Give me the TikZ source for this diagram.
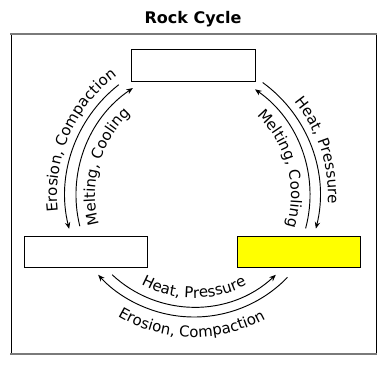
\documentclass[tikz,border=0pt]{standalone}
\usepackage{fontspec}
\setmainfont{DejaVu Sans}
\usepackage{tikz}
\usetikzlibrary{arrows.meta, decorations.text, calc}
\definecolor{rockyellow}{HTML}{FFFF00}
\definecolor{framegray}{HTML}{7A7A7A}
\newcommand{\arcfont}{\fontsize{11.25}{13}\selectfont}
\tikzstyle{rockbox} = [rectangle, draw=black, line width=0.9pt, fill=white, minimum width=92.5pt, minimum height=23.5pt, inner sep=0pt]
\tikzstyle{cyclearrow} = [line width=0.7pt, -{Stealth[length=5pt, width=4pt]}]
\tikzstyle{arclabel} = [decorate, decoration={text along path, text align=center, text={|\arcfont|#1}}]

\begin{document}
\begin{tikzpicture}[x=0.75pt, y=0.75pt]
    \useasboundingbox (0,0) rectangle (388,365);
    \fill[white] (0,0) rectangle (388,365);
    % frame
    \draw[line width=0.6pt] (11,11) -- (11,331);
    \draw[line width=0.6pt] (376,11) -- (376,331);
    \draw[framegray, line width=1.6pt] (10,331) -- (377,331);
    \draw[framegray, line width=1.6pt] (10,11) -- (377,11);

    \node[font=\bfseries\fontsize{12}{14}\selectfont] (title) at (193,346) {Rock Cycle};
    \node[rockbox] (igneous) at (193.5,299.5) {};
    \node[rockbox] (sedimentary) at (86,113) {};
    \node[rockbox, fill=rockyellow] (metamorphic) at (299,113) {};

    \coordinate (cl) at (205,170);
    \coordinate (cr) at (181,170);
    \coordinate (cb) at (194,178);

    % igneous <-> sedimentary
    \draw[cyclearrow] ($(cl)+(128:140)$) arc[start angle=128, end angle=194, radius=105pt];
    \draw[cyclearrow] ($(cl)+(194:129)$) arc[start angle=194, end angle=124, radius=96.75pt];
    \path[arclabel={Erosion, Compaction}] ($(cl)+(196:148)$) arc[start angle=196, end angle=117, radius=111pt];
    \path[arclabel={Melting, Cooling}] ($(cl)+(204:110)$) arc[start angle=204, end angle=124, radius=82.5pt];

    % igneous <-> metamorphic
    \draw[cyclearrow] ($(cr)+(54:139)$) arc[start angle=54, end angle=-14, radius=104.25pt];
    \draw[cyclearrow] ($(cr)+(-15:129)$) arc[start angle=-15, end angle=55, radius=96.75pt];
    \path[arclabel={Heat, Pressure}] ($(cr)+(53:147)$) arc[start angle=53, end angle=-17, radius=110.25pt];
    \path[arclabel={Melting, Cooling}] ($(cr)+(55:110)$) arc[start angle=55, end angle=-25, radius=82.5pt];

    % sedimentary <-> metamorphic
    \draw[cyclearrow] ($(cb)+(227:120)$) arc[start angle=227, end angle=313, radius=90pt];
    \draw[cyclearrow] ($(cb)+(316:130)$) arc[start angle=316, end angle=222.5, radius=97.5pt];
    \path[arclabel={Heat, Pressure}] ($(cb)+(230:111)$) arc[start angle=230, end angle=310, radius=83.25pt];
    \path[arclabel={Erosion, Compaction}] ($(cb)+(229:150)$) arc[start angle=229, end angle=309, radius=112.5pt];
\end{tikzpicture}
\end{document}
